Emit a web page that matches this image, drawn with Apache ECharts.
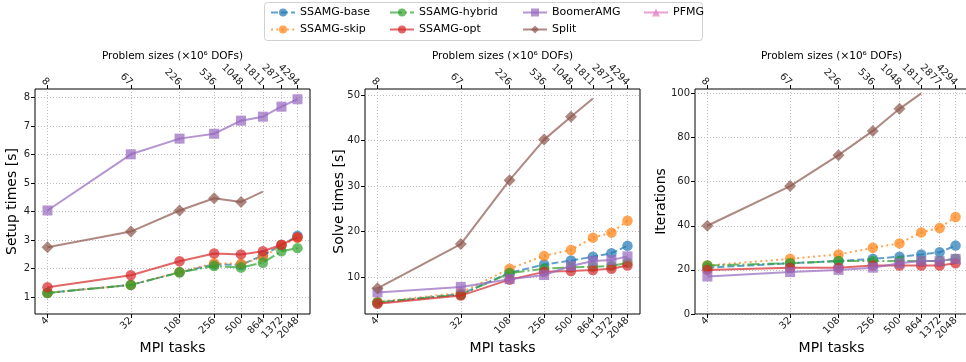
<!DOCTYPE html>
<html><head><meta charset="utf-8">
<script src="https://cdn.jsdelivr.net/npm/echarts@6/dist/echarts.min.js"></script>
<style>html,body{margin:0;padding:0;background:#fff}#c{width:966px;height:362px}</style>
</head><body><div id="c"></div>
<script>
// ---- data ----
const tasks = [4, 32, 108, 256, 500, 864, 1372, 2048];
const sizes = [8, 67, 226, 536, 1048, 1811, 2877, 4294];
const seriesNames = ['SSAMG-base', 'SSAMG-skip', 'SSAMG-hybrid', 'SSAMG-opt', 'BoomerAMG', 'Split', 'PFMG'];

const setupBase   = [1.15, 1.43, 1.87, 2.15, 2.13, 2.47, 2.82, 3.15];
const setupSkip   = [1.15, 1.43, 1.88, 2.19, 2.17, 2.40, 2.82, 3.08];
const setupHybrid = [1.15, 1.43, 1.87, 2.09, 2.04, 2.21, 2.61, 2.72];
const setupOpt    = [1.35, 1.77, 2.26, 2.53, 2.50, 2.61, 2.84, 3.10];
const setupBoomer = [4.04, 6.01, 6.56, 6.73, 7.19, 7.33, 7.68, 7.94];
const setupSplit  = [2.75, 3.30, 4.04, 4.47, 4.34, 4.70];
const setupPfmg   = [];

const solveBase   = [4.5, 6.3, 11.0, 12.8, 13.7, 14.5, 15.3, 16.9];
const solveSkip   = [4.6, 6.6, 11.9, 14.7, 16.0, 18.7, 19.8, 22.4];
const solveHybrid = [4.5, 6.2, 10.9, 11.9, 12.2, 12.3, 12.5, 13.2];
const solveOpt    = [4.2, 6.0, 9.5, 11.2, 11.4, 11.6, 11.9, 12.6];
const solveBoomer = [6.7, 7.9, 9.6, 10.5, 12.5, 13.6, 13.8, 14.6];
const solveSplit  = [7.6, 17.3, 31.3, 40.2, 45.2, 49.2];
const solvePfmg   = [];

const iterBase   = [21, 23, 24, 25, 26, 27, 28, 31];
const iterSkip   = [22, 25, 27, 30, 32, 37, 39, 44];
const iterHybrid = [22, 23, 24, 24, 24, 24, 24, 25];
const iterOpt    = [20, 21, 21, 22, 22, 22, 22, 23];
const iterBoomer = [17, 19, 20, 21, 23, 24, 24, 25];
const iterSplit  = [40, 58, 72, 83, 93, 100];
const iterPfmg   = [];

const yTicksSetup = [1, 2, 3, 4, 5, 6, 7, 8];
const yTicksSolve = [10, 20, 30, 40, 50];
const yTicksIter  = [0, 20, 40, 60, 80, 100];

// ---- styles ----
const FONT = 'DejaVu Sans';
const colors = ['#1f77b4', '#ff7f0e', '#2ca02c', '#d62728', '#9467bd', '#8c564b', '#e377c2'];
const dashes = [[7, 3], [2, 3.3], [12, 3, 2, 3], 'solid', 'solid', 'solid', 'solid'];
const DIAMOND = 'path://M0,-1L1,0L0,1L-1,0Z';
const symbols = ['circle', 'circle', 'circle', 'circle', 'rect', DIAMOND, 'triangle'];
const symSizes = [10.5, 10.5, 10.5, 10.5, 10, 12, 10];

const panels = [
  {left: 35, width: 275, yName: 'Setup times [s]', yMin: 0.41, yMax: 8.3, yTicks: yTicksSetup, nameGap: 16,
   data: [setupBase, setupSkip, setupHybrid, setupOpt, setupBoomer, setupSplit, setupPfmg]},
  {left: 365, width: 275, yName: 'Solve times [s]', yMin: 1.96, yMax: 51.3, yTicks: yTicksSolve, nameGap: 19,
   data: [solveBase, solveSkip, solveHybrid, solveOpt, solveBoomer, solveSplit, solvePfmg]},
  {left: 695, width: 273, yName: 'Iterations', yMin: 0, yMax: 102, yTicks: yTicksIter, nameGap: 27,
   data: [iterBase, iterSkip, iterHybrid, iterOpt, iterBoomer, iterSplit, iterPfmg]}
];

const xMin = 2.93, xMax = 2799;
function nearestIdx(v) {
  let best = 0, bd = Infinity;
  tasks.forEach((t, i) => { const d = Math.abs(Math.log(t) - Math.log(v)); if (d < bd) { bd = d; best = i; } });
  return best;
}

const grid = [], xAxis = [], yAxis = [], series = [];
panels.forEach((p, pi) => {
  grid.push({left: p.left, top: 89, width: p.width, height: 225, containLabel: false, outerBoundsMode: 'none',
    show: true, borderColor: '#000', borderWidth: 1, backgroundColor: 'transparent'});
  xAxis.push({
    type: 'log', logBase: 10, gridIndex: pi, position: 'bottom', min: xMin, max: xMax,
    name: 'MPI tasks', nameLocation: 'middle', nameGap: 27, nameMoveOverlap: false,
    nameTextStyle: {fontFamily: FONT, fontSize: 14, color: '#000'},
    axisLine: {show: false},
    axisTick: {show: true, length: 4, lineStyle: {color: '#000', width: 1}, customValues: tasks},
    axisLabel: {customValues: tasks, rotate: 45, fontFamily: FONT, fontSize: 10, color: '#222', margin: 5,
      formatter: v => String(tasks[nearestIdx(v)])},
    splitLine: {show: true, lineStyle: {color: '#b0b0b0', width: 0.8, type: [1, 2]}},
    minorTick: {show: false}, minorSplitLine: {show: false}
  });
  xAxis.push({
    type: 'log', logBase: 10, gridIndex: pi, position: 'top', min: xMin, max: xMax,
    name: 'Problem sizes (×10⁶ DOFs)', nameLocation: 'middle', nameGap: 27, nameMoveOverlap: false,
    nameTextStyle: {fontFamily: FONT, fontSize: 10.5, color: '#000'},
    axisLine: {show: false},
    axisTick: {show: true, length: 4, lineStyle: {color: '#000', width: 1}, customValues: tasks},
    axisLabel: {customValues: tasks, rotate: 45, fontFamily: FONT, fontSize: 10, color: '#222', margin: 5,
      formatter: v => String(sizes[nearestIdx(v)])},
    splitLine: {show: false}
  });
  yAxis.push({
    type: 'value', gridIndex: pi, min: p.yMin, max: p.yMax,
    name: p.yName, nameLocation: 'middle', nameGap: p.nameGap, nameRotate: 90, nameMoveOverlap: false,
    nameTextStyle: {fontFamily: FONT, fontSize: 14, color: '#000'},
    axisLine: {show: false},
    axisTick: {show: true, length: 4, lineStyle: {color: '#000', width: 1}, customValues: p.yTicks},
    axisLabel: {customValues: p.yTicks, fontFamily: FONT, fontSize: 10, color: '#222', margin: 5},
    splitLine: {show: true, lineStyle: {color: '#b0b0b0', width: 0.8, type: [1, 2]}}
  });
  p.data.forEach((vals, si) => {
    const isSplit = seriesNames[si] === 'Split';
    series.push({
      name: seriesNames[si], type: 'line', xAxisIndex: pi * 2, yAxisIndex: pi,
      data: vals.map((v, i) => {
        const item = {value: [tasks[i], v]};
        if (isSplit && i === vals.length - 1) item.symbol = 'none';
        return item;
      }),
      symbol: symbols[si], symbolSize: symSizes[si], showSymbol: true,
      lineStyle: {color: colors[si], width: 2, type: dashes[si], opacity: 0.7},
      itemStyle: {color: colors[si], opacity: 0.7, borderWidth: 0},
      emphasis: {disabled: true}, animation: false, z: 2 + si
    });
  });
});

const legendCols = [[0, 1], [2, 3], [4, 5], [6]];
const legendLefts = [270, 389, 522, 643];
const legend = legendCols.map((col, ci) => ({
  orient: 'vertical', left: legendLefts[ci], top: 7, padding: 0, itemWidth: 24, itemHeight: 10, itemGap: 6,
  data: col.map(i => seriesNames[i]),
  textStyle: {fontFamily: FONT, fontSize: 11, color: '#000'},
  selectedMode: false
}));

const chart = echarts.init(document.getElementById('c'), null, {renderer: 'canvas'});
chart.setOption({
  backgroundColor: '#fff',
  animation: false,
  textStyle: {fontFamily: FONT},
  graphic: [{type: 'rect', shape: {x: 264.5, y: 2.5, width: 438, height: 38, r: 3},
    style: {fill: '#fff', stroke: '#d0d0d0', lineWidth: 1}, z: -1}],
  legend, grid, xAxis, yAxis, series
});
</script></body></html>
